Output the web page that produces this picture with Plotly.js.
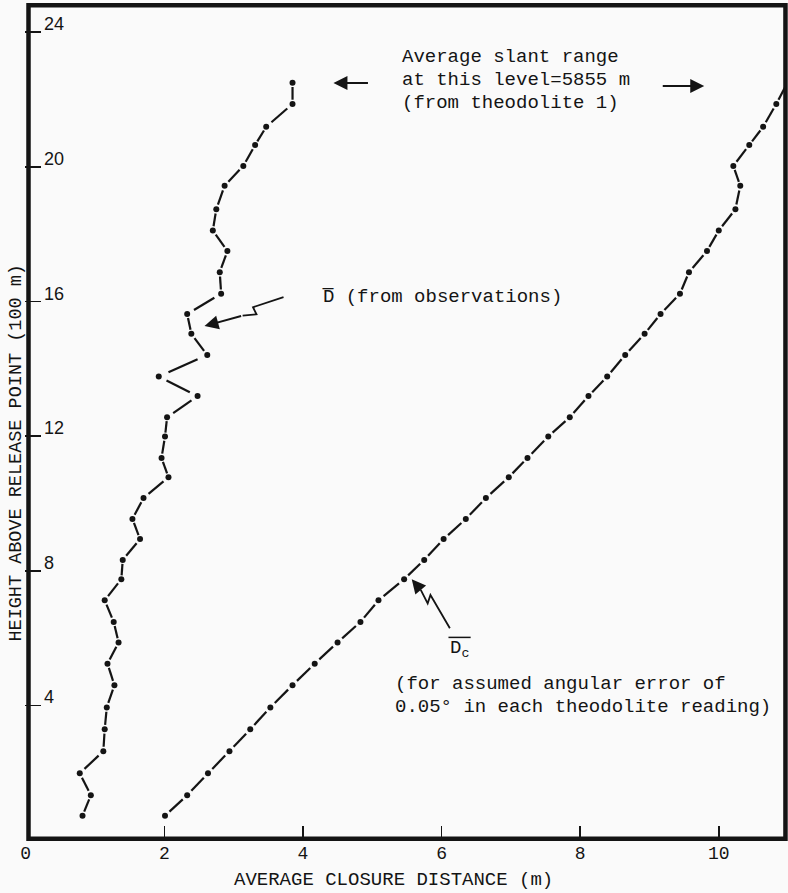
<!DOCTYPE html>
<html>
<head>
<meta charset="utf-8">
<script src="https://cdn.plot.ly/plotly-3.0.1.min.js"></script>
<style>
  html, body { margin: 0; padding: 0; background: #fafafa; }
  #chart { width: 788px; height: 893px; }
</style>
</head>
<body>
<div id="chart"></div>
<script>
// Heights of the balloon fixes above the release point (hundreds of metres)
const heights = [0.72, 1.33, 1.98, 2.64, 3.29, 3.94, 4.60, 5.24, 5.87, 6.48,
                 7.12, 7.75, 8.32, 8.94, 9.54, 10.16, 10.78, 11.35, 11.99, 12.56,
                 13.19, 13.77, 14.41, 15.04, 15.63, 16.23, 16.87, 17.50, 18.11, 18.74,
                 19.44, 20.03, 20.65, 21.19, 21.87, 22.50];

// Average closure distance from the observations, D-bar (m)
const closureObserved = [0.82, 0.94, 0.78, 1.12, 1.14, 1.17, 1.28, 1.18, 1.34, 1.27,
                         1.14, 1.38, 1.40, 1.65, 1.54, 1.70, 2.06, 1.96, 2.01, 2.04,
                         2.48, 1.92, 2.62, 2.39, 2.33, 2.82, 2.80, 2.91, 2.70, 2.75,
                         2.87, 3.14, 3.31, 3.47, 3.85, 3.85];

// Closure distance for an assumed 0.05 degree angular error, D-bar sub c (m)
const closureComputed = [2.01, 2.33, 2.63, 2.94, 3.24, 3.53, 3.85, 4.17, 4.50, 4.83,
                         5.09, 5.46, 5.75, 6.03, 6.35, 6.64, 6.97, 7.24, 7.54, 7.85,
                         8.12, 8.39, 8.65, 8.93, 9.16, 9.44, 9.57, 9.83, 10.00, 10.24,
                         10.31, 10.21, 10.44, 10.64, 10.83, 10.99];

const xTickVals = [0, 2, 4, 6, 8, 10];
const yTickVals = [4, 8, 12, 16, 20, 24];

const INK = '#141414';
const MONO = '"Liberation Mono", "Courier New", monospace';
const SANS = '"Liberation Sans", Arial, sans-serif';

// One dash centred between each pair of neighbouring fixes, leaving a gap by each dot
function dashBetween(xs, ys, gap) {
  const sx = [], sy = [];
  for (let i = 0; i < xs.length - 1; i++) {
    const dx = xs[i + 1] - xs[i], dy = ys[i + 1] - ys[i];
    sx.push(xs[i] + gap * dx, xs[i + 1] - gap * dx, null);
    sy.push(ys[i] + gap * dy, ys[i + 1] - gap * dy, null);
  }
  return { x: sx, y: sy };
}

function seriesTraces(xs, ys) {
  const d = dashBetween(xs, ys, 0.2);
  return [
    { type: 'scatter', mode: 'lines', x: d.x, y: d.y, connectgaps: false,
      line: { color: INK, width: 2.2 }, hoverinfo: 'skip', cliponaxis: false },
    { type: 'scatter', mode: 'markers', x: xs, y: ys,
      marker: { color: INK, size: 6 }, cliponaxis: false }
  ];
}

const traces = [
  ...seriesTraces(closureObserved, heights),
  ...seriesTraces(closureComputed, heights)
];

function label(text, x, y, size, extra) {
  return Object.assign({
    text: text, x: x, y: y, xref: 'x', yref: 'y',
    xanchor: 'left', yanchor: 'middle', showarrow: false,
    font: { family: MONO, size: size || 19, color: INK }
  }, extra || {});
}

function arrow(x, y, ax, ay) {
  return {
    text: '', x: x, y: y, ax: ax, ay: ay, xref: 'x', yref: 'y', axref: 'x', ayref: 'y',
    showarrow: true, arrowhead: 2, arrowsize: 1.4, arrowwidth: 2, arrowcolor: INK
  };
}

// height labels sit just inside the left axis, resting on their tick marks
const yTickLabels = yTickVals.map(v => ({
  text: String(v), x: 0.24, y: v, xref: 'x', yref: 'y',
  xanchor: 'left', yanchor: 'bottom', yshift: -4, showarrow: false,
  font: { family: SANS, size: 18, color: INK }
}));

const annotations = [
  ...yTickLabels,
  label('Average slant range', 5.40, 23.26),
  label('at this level=5855 m', 5.40, 22.58),
  label('(from theodolite 1)', 5.40, 21.91),
  arrow(4.44, 22.49, 4.96, 22.49),
  arrow(9.79, 22.40, 9.17, 22.40),

  label('D\u0305 (from observations)', 4.24, 16.14),
  arrow(2.58, 15.27, 3.13, 15.58),

  label('D<sub>c</sub>', 6.10, 5.68),
  label('(for assumed angular error of', 5.30, 4.64),
  label('0.05\u00b0 in each theodolite reading)', 5.30, 3.96),
  arrow(5.57, 7.75, 5.70, 7.43),

  // axis titles
  { text: 'AVERAGE CLOSURE DISTANCE (m)', xref: 'paper', yref: 'paper',
    x: 0.4836, y: -0.048, xanchor: 'center', yanchor: 'middle', showarrow: false,
    font: { family: MONO, size: 19, color: INK } },
  { text: 'HEIGHT ABOVE RELEASE POINT (100 m)', xref: 'paper', yref: 'paper',
    x: -0.011, y: 0.463, xanchor: 'center', yanchor: 'middle', textangle: -90,
    showarrow: false, font: { family: MONO, size: 18.5, color: INK } }
];

const shapes = [
  // heavy plot frame
  { type: 'rect', xref: 'paper', yref: 'paper', x0: 0.0046, x1: 0.9993, y0: 0.0016, y1: 0.9984,
    line: { color: INK, width: 4.5 }, fillcolor: 'rgba(0,0,0,0)' },
  // zig-zag leader to D-bar
  { type: 'path', xref: 'x', yref: 'y',
    path: 'M 3.72,16.13 L 3.28,15.83 L 3.33,15.62 L 3.13,15.58',
    line: { color: INK, width: 1.8 } },
  // zig-zag leader to D-bar sub c
  { type: 'path', xref: 'x', yref: 'y',
    path: 'M 6.12,6.29 L 5.84,7.28 L 5.80,7.03 L 5.70,7.43',
    line: { color: INK, width: 1.8 } },
  // bar over D sub c
  { type: 'line', xref: 'x', yref: 'y', x0: 6.10, x1: 6.42, y0: 6.02, y1: 6.02,
    line: { color: INK, width: 1.5 } }
];

const layout = {
  width: 788, height: 893,
  margin: { l: 25, r: 2, t: 4, b: 53, pad: 0 },
  paper_bgcolor: '#fafafa', plot_bgcolor: '#fafafa',
  showlegend: false,
  xaxis: {
    range: [-0.01, 10.97], showgrid: false, zeroline: false, showline: false,
    tickmode: 'array', tickvals: xTickVals, ticktext: xTickVals.map(String),
    ticks: 'inside', ticklen: 14, tickwidth: 1.6, tickcolor: INK,
    tickfont: { family: MONO, size: 18, color: INK }
  },
  yaxis: {
    range: [0, 24.84], showgrid: false, zeroline: false, showline: false,
    tickmode: 'array', tickvals: yTickVals,
    ticks: 'inside', ticklen: 16, tickwidth: 1.6, tickcolor: INK,
    showticklabels: false
  },
  annotations: annotations,
  shapes: shapes
};

Plotly.newPlot('chart', traces, layout, { staticPlot: true, displayModeBar: false });
</script>
</body>
</html>
